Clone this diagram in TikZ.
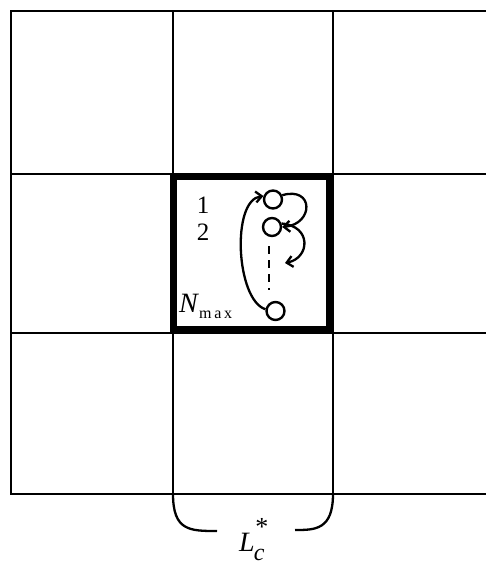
\documentclass[tikz,border=0pt]{standalone}
\usepackage{fontspec}
\setmainfont{Liberation Serif}
\usetikzlibrary{arrows.meta}
\begin{document}
\begin{tikzpicture}[x=1pt,y=-1pt,
  gridline/.style={line width=2.4pt},
  thickbox/.style={line width=7pt},
  molecule/.style={circle,draw,line width=2.4pt,minimum size=18pt,inner sep=0pt},
  arr/.style={line width=2.3pt,-{Straight Barb[length=6pt,width=11pt,line width=2.3pt]}},
  lbl/.style={font=\fontsize{25}{28}\selectfont,inner sep=0pt}]
\useasboundingbox (0,0) rectangle (486,566);
% grid
\foreach \yy in {11,174,333,494} \draw[gridline] (10,\yy) -- (486,\yy);
\foreach \xx in {11,173,333} \draw[gridline] (\xx,10) -- (\xx,495);
% central thick cell
\draw[thickbox] (173.5,176.5) rectangle (329,329.5);
% labels
\node[lbl] (one) at (203,205) {1};
\node[lbl] (two) at (203,232) {2};
\node[inner sep=0pt,anchor=base west] (nmax) at (179,312)
  {\fontsize{28}{30}\selectfont\textit{N}\raisebox{-6pt}{\fontsize{16}{18}\selectfont m\,a\,x}};
% molecules
\node[molecule] (c1) at (273,199.5) {};
\node[molecule] (c2) at (272,227) {};
\node[molecule] (c3) at (275.5,311) {};
% dashed column
\coordinate (d1) at (269,246);
\coordinate (d2) at (269,290);
\draw[line width=2.4pt,dash pattern=on 8pt off 6pt] (d1) -- (d2);
% arrows
\draw[arr] (c3.170) .. controls (236,300) and (231,200) .. (c1.160);
\draw[arr] (c1.25) .. controls (314,186) and (314,224) .. (c2.east);
\coordinate (a3) at (285,263);
\draw[arr] (c2.20) .. controls (312,226) and (310,258) .. (a3);
% brace
\coordinate (bl) at (173,494);
\coordinate (br) at (333,494);
\coordinate (bl2) at (217,531);
\coordinate (br2) at (295,530);
\draw[line width=2.3pt] (bl) .. controls (173,531) and (190,531) .. (bl2);
\draw[line width=2.3pt] (br) .. controls (333,530) and (315,530) .. (br2);
\node[inner sep=0pt,anchor=base west] (lc) at (239,551)
  {\fontsize{28}{30}\selectfont\textit{L}\hspace{-1pt}\raisebox{-9pt}{\fontsize{24}{26}\selectfont\textit{c}}\hspace{-9pt}\raisebox{16pt}{\fontsize{26}{28}\selectfont *}};
\end{tikzpicture}
\end{document}
